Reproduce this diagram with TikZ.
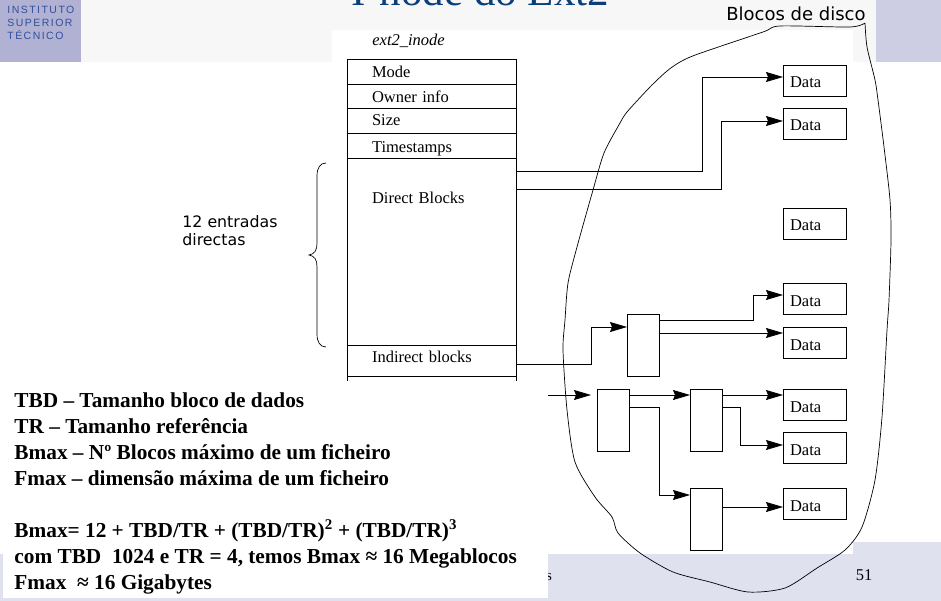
\documentclass[tikz,border=0pt]{standalone}
\usepackage{fontspec}
\setmainfont{Liberation Serif}
\newfontfamily\versans{DejaVu Sans}
\newfontfamily\logosans[LetterSpace=14]{Liberation Sans}
\usetikzlibrary{positioning,arrows.meta,calc}

\definecolor{lavbar}{HTML}{CDCEE3}
\definecolor{lavfoot}{HTML}{E0E1EF}
\definecolor{logobg}{HTML}{B0B1D3}
\definecolor{logoink}{HTML}{33509A}
\definecolor{titleink}{HTML}{0B3F7C}
\definecolor{topband}{HTML}{F7F7F7}

\begin{document}
\begin{tikzpicture}[x=1pt,y=-1pt,line width=0.8pt]
  \tikzstyle{row}=[draw,outer sep=0pt,inner xsep=25pt,inner ysep=0pt,text width=119pt,font=\fontsize{16.5}{18}\selectfont]
  \tikzstyle{dat}=[draw,outer sep=0pt,inner xsep=7pt,inner ysep=0pt,text width=49pt,text height=23pt,text depth=8pt,font=\fontsize{16.5}{18}\selectfont]
  \tikzstyle{ptr}=[draw,outer sep=0pt,inner sep=0pt,minimum width=32pt,minimum height=62pt]
  \tikzstyle{link}=[-{Stealth[length=17pt,width=10pt,inset=2pt]}]
  \useasboundingbox (0,0) rectangle (941,601);
  % page background
  \fill[white] (0,0) rectangle (941,601);
  \fill[topband] (81,0) rectangle (876,30);
  \fill[topband] (81,30) rectangle (332,62);
  \fill[topband] (853,30) rectangle (876,62);
  \fill[lavbar] (876,0) rectangle (941,62);
  \fill[logobg] (0,0) rectangle (81,62);
  \fill[lavfoot] (0,554) rectangle (941,601);
  \fill[lavfoot] (853,542) rectangle (941,554);
  \node[font=\logosans\fontsize{10.5}{13}\selectfont,text=logoink,align=left,anchor=north west,inner sep=0pt] (logo) at (7,6) {INSTITUTO\\SUPERIOR\\TÉCNICO};
  \node[font=\fontsize{43}{43}\selectfont,text=titleink,anchor=base,inner sep=0pt] (title) at (480,6) {I-node do Ext2};
  \node[font=\fontsize{16.5}{18}\selectfont,inner sep=0pt] (pagenum) at (864,575) {51};
  \node[font=\fontsize{15}{18}\selectfont,inner sep=0pt] (footer) at (549,577) {s};
  % the inode table
  \node[font=\itshape\fontsize{16.5}{18}\selectfont,anchor=base west,inner sep=0pt] (inodename) at (372,46) {ext2\_inode};
  \node[row,text height=19pt,text depth=6pt,anchor=north west] (mode) at (347,59) {Mode};
  \node[row,text height=19pt,text depth=5pt] (owner) [below=0pt of mode] {Owner info};
  \node[row,text height=18pt,text depth=7pt] (size) [below=0pt of owner] {Size};
  \node[row,text height=20pt,text depth=5pt] (stamps) [below=0pt of size] {Timestamps};
  \node[row,text height=46pt,text depth=141pt] (direct) [below=0pt of stamps] {Direct Blocks};
  \node[row,text height=17pt,text depth=14pt] (indirect) [below=0pt of direct] {Indirect blocks};
  \node[row,text height=20pt,text depth=10pt] (rest) [below=0pt of indirect] {};
  % data blocks
  \node[dat,anchor=north west] (d1) at (783,65) {Data};
  \node[dat] (d2) [below=12pt of d1] {Data};
  \node[dat] (d3) [below=69pt of d2] {Data};
  \node[dat] (d4) [below=44pt of d3] {Data};
  \node[dat] (d5) [below=13pt of d4] {Data};
  \node[dat] (d6) [below=31pt of d5] {Data};
  \node[dat] (d7) [below=12pt of d6] {Data};
  \node[dat] (d8) [below=25pt of d7] {Data};
  % pointer blocks
  \node[ptr,anchor=north west] (sing) at (627,314) {};
  \node[ptr,anchor=north west] (dbl) at (597,389) {};
  \node[ptr,anchor=north west] (dblA) at (690,389) {};
  \node[ptr,anchor=north west] (dblB) at (690,488) {};
  \coordinate (cut) at (548,395);
  \coordinate (cutend) at (591,395);
  % links
  \draw[link] ([yshift=-13pt]direct.north east) -- (702,171) |- ([yshift=-12pt]d1.north west);
  \draw[link] ([yshift=-31pt]direct.north east) -- (721,189) |- ([yshift=-13pt]d2.north west);
  \draw[link] ([yshift=-19pt]indirect.north east) -- (591,364) |- ([yshift=-13pt]sing.north west);
  \draw[link] ([yshift=-6pt]sing.north east) -- (753,320) |- ([yshift=-12pt]d4.north west);
  \draw[link] ([yshift=-19pt]sing.north east) -- ([yshift=-6pt]d5.north west);
  \draw[link] (cut) -- (cutend);
  \draw[link] ([yshift=-6pt]dbl.north east) -- ([yshift=-6pt]dblA.north west);
  \draw[link] ([yshift=-18pt]dbl.north east) -- (659,407) |- ([yshift=-7pt]dblB.north west);
  \draw[link] ([yshift=-6pt]dblA.north east) -- ([yshift=-6pt]d6.north west);
  \draw[link] ([yshift=-18pt]dblA.north east) -- (740,407) |- ([yshift=-13pt]d7.north west);
  \draw[link] ([yshift=-19pt]dblB.north east) -- ([yshift=-19pt]d8.north west);
  % white panel with the notes
  \fill[white] (3,381) rectangle (548,598);
  \node[font=\bfseries\fontsize{21.3}{26}\selectfont,align=left,anchor=north west,inner sep=0pt] (notes) at (14,392) {TBD – Tamanho bloco de dados\\
    TR – Tamanho referência\\
    Bmax – Nº Blocos máximo de um ficheiro\\
    Fmax – dimensão máxima de um ficheiro\\[26pt]
    Bmax= 12 + TBD/TR + (TBD/TR)\textsuperscript{2} + (TBD/TR)\textsuperscript{3}\\
    com TBD\ \ 1024 e TR = 4, temos Bmax ≈ 16 Megablocos\\
    Fmax\ \ ≈ 16 Gigabytes};
  % brace and side labels
  \node[font=\versans\fontsize{15.8}{18}\selectfont,align=left,anchor=west,inner sep=0pt] (entries) at (182,231) {12 entradas\\directas};
  \node[font=\versans\fontsize{18}{18}\selectfont,anchor=base east,inner sep=0pt] (disklabel) at (866,21) {Blocos de disco};
  \draw[line width=0.7pt] (326,163) .. controls (320,163) and (317,168) .. (317,176) -- (317,243) .. controls (317,250) and (315,254) .. (309,255) .. controls (315,256) and (317,260) .. (317,267) -- (317,334) .. controls (317,342) and (320,347) .. (326,347);
  % outline of the disk blocks
  \draw[line width=0.7pt] plot[smooth,tension=0.45] coordinates {(865,23) (850,27) (780,26) (763,32) (698,54) (680,62) (667,71) (650,87) (627,112) (620,123) (604,153) (593,190) (577,247) (568,283) (565,320) (563,350) (567,410) (575,462) (595,497) (612,517) (618,533) (640,553) (673,572) (710,582) (748,592) (785,588) (817,568) (845,550) (862,527) (875,480) (882,417) (887,330) (889,300) (891,240) (890,200) (884,147) (878,100) (875,80) (867,47) (865,23)};
\end{tikzpicture}
\end{document}
